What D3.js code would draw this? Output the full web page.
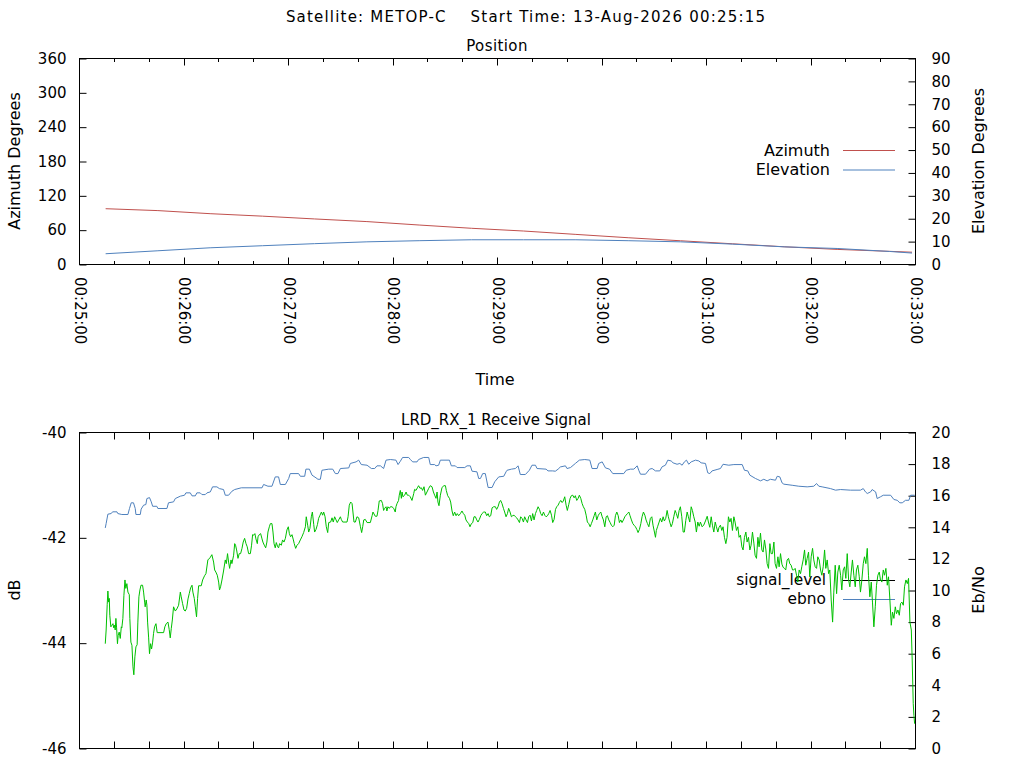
<!DOCTYPE html>
<html>
<head>
<meta charset="utf-8">
<script src="https://cdn.jsdelivr.net/npm/d3@7"></script>
<style>
  html, body { margin: 0; padding: 0; background: #fff; }
  svg { display: block; font-family: "DejaVu Sans", sans-serif; }
  text { fill: #000; white-space: pre; }
</style>
</head>
<body>
<svg id="chart" width="1024" height="768"></svg>
<script>
// ---------------- DATA ----------------
const mainTitle = "Satellite: METOP-C    Start Time: 13-Aug-2026 00:25:15";
const passDate = "2026-08-13";
const timeTicks = ["00:25:00","00:26:00","00:27:00","00:28:00","00:29:00","00:30:00","00:31:00","00:32:00","00:33:00"];
const azimuthTicks = [0, 60, 120, 180, 240, 300, 360];
const elevationTicks = [0, 10, 20, 30, 40, 50, 60, 70, 80, 90];
const dbTicks = [-46, -44, -42, -40];
const ebnoTicks = [0, 2, 4, 6, 8, 10, 12, 14, 16, 18, 20];

// seconds after 00:25:00
const posTimeSec = [15, 45, 75, 105, 135, 165, 195, 225, 255, 285, 315, 345, 375, 405, 435, 465, 478];
const azimuthDeg = [97.5, 94.2, 88.8, 84.5, 79.6, 75.0, 69.0, 63.3, 58.5, 52.6, 46.8, 41.5, 36.2, 30.9, 26.4, 23.0, 21.5];
const elevationDeg = [4.7, 6.0, 7.3, 8.2, 9.1, 9.9, 10.4, 10.8, 10.8, 10.8, 10.4, 9.9, 8.9, 7.7, 7.0, 5.7, 5.0];

const ebnoTimeSec = [14.8,15.3,16.3,18.2,19.0,21.5,22.0,24.3,27.8,28.7,29.7,31.0,32.0,32.4,34.9,35.4,36.8,38.1,38.7,40.2,41.2,42.0,44.4,45.0,50.2,51.1,54.0,55.0,57.9,60.3,61.1,63.6,64.6,66.5,67.4,69.3,70.3,72.2,73.2,75.1,76.4,78.9,80.3,82.7,83.7,85.6,87.5,89.1,92.9,104.8,105.7,108.2,110.5,112.4,114.3,115.3,118.2,120.1,121.0,125.8,126.8,129.3,130.0,132.0,133.5,135.8,136.9,138.3,139.2,143.1,145.4,146.9,148.4,149.8,154.6,155.5,158.8,160.3,161.8,165.1,167.6,169.5,170.8,172.8,
174.6,176.0,178.5,181.7,182.9,184.2,185.5,189.0,190.0,191.3,193.8,194.7,197.6,200.5,201.4,203.9,204.7,206.2,207.2,212.4,213.5,215.8,216.8,221.2,222.5,224.4,225.4,228.2,229.2,230.2,231.5,233.0,234.6,236.9,238.4,240.7,243.6,244.9,245.5,248.0,250.3,251.8,253.1,256.0,258.3,259.8,261.8,262.7,267.9,269.0,271.7,273.2,274.8,276.1,279.0,279.9,281.9,284.7,287.0,290.1,293.0,294.3,297.2,298.1,300.1,302.0,304.3,306.2,312.5,313.9,316.3,318.3,320.2,321.1,322.1,325.0,327.3,
328.8,330.7,333.2,334.5,336.4,337.8,339.7,340.8,343.1,344.7,346.0,347.3,348.5,349.8,351.2,353.7,355.6,356.9,359.4,360.7,361.9,363.2,366.1,368.0,369.5,372.8,375.7,380.5,381.8,383.7,384.9,388.1,389.1,391.0,392.9,394.8,396.7,399.6,400.6,402.1,403.4,404.4,409.2,413.0,417.8,421.6,423.2,424.5,426.4,431.2,434.1,437.0,442.7,448.4,450.0,451.3,452.3,454.2,455.1,457.1,458.0,459.9,461.5,465.7,467.6,469.5,471.0,472.4,474.3,476.2,477.2,479.5];
const ebnoValues = [13.96,14.24,14.83,14.87,14.98,14.98,14.87,14.81,14.81,15.19,15.55,15.55,15.19,14.81,14.81,15.15,15.40,15.44,15.82,15.88,15.61,15.33,15.33,15.19,15.19,15.55,15.61,15.82,15.97,16.03,16.18,16.18,15.99,15.99,16.18,16.18,16.07,16.07,16.18,16.24,16.56,16.56,16.45,16.39,16.03,16.03,16.28,16.39,16.50,16.50,16.71,16.60,16.60,17.19,17.19,16.71,16.71,17.09,17.40,17.40,17.23,17.23,17.68,17.68,17.30,17.13,17.04,17.04,17.61,17.68,17.68,17.40,17.40,17.72,17.76,18.04,18.14,18.25,17.97,17.93,17.72,17.72,17.89,17.89,
17.72,18.25,18.29,18.25,17.97,18.18,18.42,18.42,18.29,18.14,18.14,18.29,18.42,18.42,17.97,17.97,17.89,17.93,18.25,18.25,17.89,17.89,17.78,17.78,17.89,17.89,17.55,17.51,17.09,17.09,17.40,17.40,16.52,16.52,16.88,17.19,17.23,17.51,17.61,17.68,17.72,17.89,17.34,17.34,17.61,17.93,17.93,17.72,17.68,17.57,17.57,17.55,17.68,17.82,17.89,17.72,17.78,18.04,18.25,18.29,18.25,17.72,17.72,18.04,18.14,17.76,17.68,17.40,17.40,17.61,17.68,17.68,17.89,17.61,17.36,17.36,17.68,
17.72,17.57,17.57,17.83,17.93,18.25,18.20,18.08,17.99,18.04,17.93,18.14,18.25,17.99,18.14,18.25,18.20,18.08,18.04,17.45,17.40,17.57,17.66,17.72,17.99,17.93,17.97,17.97,17.61,17.57,17.30,17.09,17.04,16.94,17.04,16.94,17.04,16.98,17.23,17.19,16.81,16.73,16.66,16.60,16.56,16.60,16.77,16.60,16.56,16.45,16.35,16.39,16.35,16.35,16.45,16.24,16.14,16.24,16.39,16.24,15.82,15.93,16.03,16.03,15.76,15.71,15.55,15.55,15.71,15.71,16.03,16.03];

const signalTimeSec = [14.8,15.3,15.9,16.3,16.7,17.1,17.4,18.0,18.6,19.2,19.7,20.1,20.5,20.9,21.3,21.8,22.2,22.8,23.4,24.0,24.3,24.9,25.5,26.1,26.6,27.2,27.8,28.6,28.9,29.5,30.1,30.7,31.2,31.8,32.4,33.1,33.5,34.1,34.7,35.3,36.2,36.8,37.4,37.7,38.3,38.7,39.1,39.7,40.2,40.8,41.4,42.0,42.5,43.1,43.9,44.6,48.3,49.0,49.8,50.8,51.5,52.1,52.7,53.3,54.0,55.0,55.9,56.9,57.9,58.4,59.2,60.0,60.7,61.5,62.3,63.0,63.8,64.6,65.1,65.9,66.5,67.2,67.8,68.4,69.9,70.7,71.8,72.6,73.7,74.9,76.0,77.0,77.6,78.3,79.1,79.9,80.4,81.0,81.8,82.7,83.7,84.3,85.0,85.6,86.2,87.0,87.5,88.5,89.1,89.6,90.2,91.0,91.7,92.5,93.3,94.0,94.8,95.6,96.3,97.1,98.1,98.8,99.4,100.0,100.7,101.3,102.1,102.5,103.2,104.0,104.8,105.3,106.1,106.9,107.6,108.2,109.0,109.6,110.5,111.1,111.7,112.4,113.0,113.8,114.3,114.9,115.9,116.6,117.4,118.2,119.1,119.9,120.5,121.2,122.0,122.8,123.3,124.1,124.9,125.8,126.8,127.7,128.7,129.7,130.2,131.0,131.6,132.3,133.1,133.7,134.5,135.0,135.8,136.6,137.3,138.1,138.9,139.6,140.2,141.0,141.7,142.5,143.1,144.2,145.0,145.7,146.5,147.3,148.0,148.8,149.8,150.3,151.1,153.6,154.2,154.9,155.7,156.5,157.0,157.6,158.4,159.3,160.3,161.3,162.0,162.6,163.2,164.1,165.1,167.0,168.0,168.5,
169.8,170.8,171.4,172.1,173.3,174.0,174.6,175.2,176.0,176.5,177.1,177.9,178.5,179.4,180.4,181.3,181.7,182.3,183.2,183.6,184.2,184.8,185.2,185.7,186.7,187.5,188.2,189.0,189.9,190.9,191.9,192.4,193.2,194.0,194.7,195.5,196.3,197.0,197.8,198.6,199.5,200.5,201.4,202.4,203.2,203.9,204.7,205.3,205.8,206.4,207.2,208.1,209.1,210.1,210.6,211.4,212.4,213.1,213.9,214.6,215.4,216.2,216.9,217.7,218.7,219.6,220.4,221.2,221.9,222.7,223.5,224.2,225.0,225.8,226.5,227.3,228.1,228.8,229.6,230.4,231.1,232.1,233.0,233.8,234.6,235.3,236.1,236.9,237.8,238.8,239.5,240.3,241.1,241.8,242.6,243.4,244.1,244.9,245.7,246.4,247.2,248.0,248.7,249.5,250.3,251.0,251.8,252.6,253.3,254.1,254.9,255.6,256.4,257.2,257.9,258.7,259.5,260.2,261.0,261.8,262.5,263.3,264.1,264.8,265.6,266.4,267.1,267.9,268.7,269.4,270.2,271.0,271.7,272.5,273.3,274.0,274.8,275.5,276.3,277.1,277.8,278.6,279.4,280.1,280.9,281.7,282.4,283.2,284.0,284.7,285.5,286.3,287.0,287.8,288.6,289.3,290.1,290.9,291.6,292.4,293.2,293.9,294.7,295.5,296.2,297.0,297.8,298.5,299.3,300.1,300.8,301.6,302.4,303.1,303.9,304.7,305.4,306.2,307.0,307.7,308.5,309.3,310.0,310.8,311.5,312.3,313.1,313.8,314.6,315.4,316.1,316.9,317.7,318.4,319.2,320.0,320.7,321.5,322.3,323.0,323.8,324.6,325.3,326.1,326.9,
327.8,328.6,329.3,330.1,330.7,331.2,332.0,332.8,333.5,334.3,335.1,335.8,336.6,337.4,338.1,338.9,339.7,340.4,341.2,342.0,342.7,343.5,344.3,345.0,345.8,346.6,347.3,348.1,348.9,349.6,350.4,351.2,351.9,352.7,353.5,354.2,355.0,355.8,356.5,357.5,358.4,359.4,360.4,361.1,361.9,362.7,363.4,364.2,365.0,365.7,366.5,367.2,368.0,368.8,369.5,370.3,371.1,371.8,372.6,373.4,374.1,374.9,375.7,376.4,377.2,378.0,378.7,379.5,380.3,381.0,381.8,382.6,383.3,384.1,384.9,385.6,386.4,387.2,387.9,388.7,389.5,390.2,391.0,391.8,392.5,393.3,394.1,394.8,395.6,396.4,397.1,397.9,398.7,399.4,400.2,401.0,401.7,402.5,403.3,404.0,404.8,405.5,406.3,407.1,407.8,408.6,409.4,410.1,410.9,411.7,412.4,413.2,414.0,414.7,415.5,416.3,417.0,417.8,418.6,419.3,420.1,420.9,421.6,422.4,423.2,423.9,424.7,425.5,426.2,427.0,427.8,428.5,429.3,430.1,430.8,431.6,432.4,433.1,433.9,434.7,435.4,436.2,437.0,437.7,438.5,439.3,440.0,440.8,441.6,442.3,443.1,443.8,444.6,445.4,446.1,446.9,447.7,448.4,449.2,450.0,450.7,451.5,452.3,453.0,453.8,454.6,455.3,456.1,456.9,457.6,458.4,459.2,459.9,460.7,461.5,462.2,463.0,463.8,464.5,465.3,466.1,466.8,467.6,468.4,469.1,469.9,470.7,471.4,472.2,473.0,473.7,474.5,475.3,476.0,476.8,477.6,478.1,478.7,479.1,479.5];
const signalValues = [-44.01,-43.75,-43.27,-43.01,-43.22,-43.15,-43.47,-43.69,-43.66,-43.63,-43.71,-43.66,-43.75,-43.53,-43.71,-44.01,-43.85,-43.79,-43.91,-43.69,-43.71,-43.53,-43.09,-42.80,-42.96,-42.87,-43.03,-43.08,-43.53,-43.98,-44.04,-44.45,-44.60,-44.26,-44.07,-44.03,-43.60,-43.12,-42.99,-42.90,-42.90,-43.03,-43.22,-43.31,-43.18,-43.28,-43.60,-43.90,-44.20,-44.01,-44.11,-43.98,-43.82,-43.69,-43.63,-43.80,-43.80,-43.69,-43.63,-43.60,-43.74,-43.90,-43.72,-43.56,-43.31,-43.39,-43.35,-43.28,-43.03,-43.12,-43.25,-43.37,-43.39,-43.34,-43.16,-43.06,-42.95,-42.90,-43.03,-43.15,-43.31,-43.50,-43.15,-42.91,-42.91,-42.80,-42.72,-42.68,-42.42,-42.38,-42.32,-42.46,-42.61,-42.65,-42.71,-42.84,-42.99,-42.93,-42.80,-42.63,-42.42,-42.49,-42.30,-42.46,-42.58,-42.42,-42.49,-42.33,-42.11,-42.14,-42.23,-42.39,-42.30,-42.30,-42.20,-42.08,-42.01,-42.11,-42.17,-42.30,-42.30,-42.14,-41.94,-41.95,-41.92,-42.02,-42.11,-41.98,-41.94,-41.92,-42.02,-42.08,-42.14,-42.19,-42.08,-41.89,-41.79,-41.73,-41.73,-41.89,-42.11,-42.19,-42.09,-42.17,-42.19,-42.11,-42.14,-42.04,-42.08,-42.01,-41.85,-41.79,-41.92,-41.98,-41.94,-42.04,-42.11,-42.20,-42.14,-42.11,-42.04,-41.98,-41.90,-41.79,-41.60,-41.76,-41.89,-41.82,-41.60,-41.51,-41.75,-41.89,-41.84,-41.75,-41.63,-41.57,-41.51,-41.57,-41.51,-41.60,-41.79,-41.90,-41.71,-41.70,-41.62,-41.70,-41.60,-41.66,-41.71,-41.66,-41.60,-41.65,-41.70,-41.70,-41.60,-41.38,-41.32,-41.35,-41.51,-41.70,-41.70,-41.60,-41.62,-41.79,-41.90,-41.79,-41.66,-41.65,-41.71,-41.71,-41.58,-41.51,
-41.59,-41.59,-41.48,-41.30,-41.29,-41.35,-41.48,-41.44,-41.41,-41.49,-41.41,-41.44,-41.41,-41.41,-41.44,-41.51,-41.41,-41.35,-41.29,-41.19,-41.10,-41.25,-41.13,-41.22,-41.19,-41.13,-41.19,-41.19,-41.22,-41.29,-41.16,-41.08,-41.10,-41.05,-41.01,-41.06,-41.05,-41.10,-41.03,-41.19,-41.13,-41.06,-41.01,-41.03,-41.13,-41.19,-41.25,-41.13,-41.32,-41.39,-41.19,-41.05,-41.01,-41.01,-41.10,-41.20,-41.25,-41.32,-41.49,-41.58,-41.51,-41.58,-41.54,-41.58,-41.54,-41.49,-41.54,-41.57,-41.66,-41.70,-41.73,-41.79,-41.73,-41.71,-41.60,-41.60,-41.66,-41.70,-41.65,-41.58,-41.54,-41.51,-41.51,-41.58,-41.54,-41.60,-41.58,-41.43,-41.41,-41.41,-41.46,-41.41,-41.32,-41.29,-41.35,-41.44,-41.51,-41.60,-41.54,-41.44,-41.51,-41.60,-41.58,-41.57,-41.60,-41.62,-41.66,-41.71,-41.60,-41.63,-41.70,-41.60,-41.66,-41.71,-41.60,-41.57,-41.68,-41.54,-41.66,-41.54,-41.48,-41.41,-41.46,-41.54,-41.58,-41.51,-41.57,-41.60,-41.58,-41.54,-41.48,-41.57,-41.71,-41.65,-41.46,-41.41,-41.38,-41.33,-41.29,-41.33,-41.30,-41.22,-41.38,-41.48,-41.37,-41.25,-41.20,-41.19,-41.24,-41.20,-41.29,-41.25,-41.19,-41.25,-41.35,-41.41,-41.46,-41.57,-41.70,-41.73,-41.79,-41.73,-41.66,-41.58,-41.51,-41.66,-41.58,-41.54,-41.51,-41.60,-41.66,-41.79,-41.60,-41.58,-41.66,-41.71,-41.76,-41.79,-41.76,-41.58,-41.51,-41.58,-41.71,-41.66,-41.71,-41.66,-41.60,-41.57,-41.54,-41.51,-41.58,-41.66,-41.73,-41.76,-41.79,-41.84,-41.90,-41.84,-41.73,-41.60,-41.51,-41.57,-41.66,-41.73,-41.79,
-41.63,-41.60,-41.76,-41.89,-41.99,-41.86,-41.78,-41.70,-41.63,-41.70,-41.60,-41.68,-41.63,-41.48,-41.60,-41.70,-41.79,-41.73,-41.60,-41.48,-41.54,-41.63,-41.48,-41.41,-41.60,-41.89,-41.89,-41.67,-41.51,-41.60,-41.70,-41.41,-41.48,-41.60,-41.70,-41.89,-41.70,-41.78,-41.70,-41.79,-41.76,-41.68,-41.59,-41.70,-41.80,-41.60,-41.76,-41.89,-41.70,-41.79,-41.89,-41.80,-41.76,-41.86,-41.79,-41.99,-42.11,-41.99,-41.60,-41.70,-41.63,-41.86,-41.60,-41.70,-41.86,-41.79,-41.99,-41.95,-42.17,-42.23,-41.99,-41.89,-42.08,-41.99,-42.23,-42.14,-41.89,-42.10,-42.33,-42.39,-41.99,-42.17,-41.91,-42.23,-42.27,-42.04,-42.23,-42.49,-42.58,-42.11,-42.30,-42.30,-42.08,-42.49,-42.58,-42.36,-42.55,-42.30,-42.50,-42.56,-42.58,-42.61,-42.42,-42.39,-42.49,-42.52,-42.61,-42.61,-42.58,-42.71,-42.84,-42.61,-42.68,-42.55,-42.42,-42.23,-42.52,-42.39,-42.27,-42.74,-42.36,-42.20,-42.42,-42.55,-42.58,-42.36,-42.42,-42.61,-42.71,-42.55,-42.23,-42.58,-42.42,-42.68,-42.61,-43.18,-43.60,-43.03,-42.52,-43.06,-42.65,-42.52,-42.71,-42.99,-42.61,-42.55,-42.77,-42.30,-42.80,-42.93,-42.65,-42.42,-42.71,-42.93,-42.61,-42.52,-42.74,-43.03,-42.80,-42.49,-42.36,-42.49,-42.20,-42.71,-43.12,-42.84,-43.22,-43.69,-43.31,-42.90,-42.71,-42.65,-42.80,-42.84,-42.61,-42.71,-42.58,-42.90,-42.74,-43.18,-43.66,-43.41,-43.53,-43.31,-43.44,-43.37,-43.47,-43.25,-43.22,-43.28,-42.93,-42.80,-42.87,-42.77,-43.60,-43.75,-44.32,-45.15,-45.37,-45.53];

// ---------------- CHART ----------------
const svg = d3.select("#chart");
const parseClock = s => new Date(passDate + "T" + s + "Z");
const t0 = parseClock(timeTicks[0]);
const tEnd = parseClock(timeTicks[timeTicks.length - 1]);
const toDate = s => new Date(t0.getTime() + s * 1000);

const X0 = 79.5, X1 = 915.5;
const x = d3.scaleUtc().domain([t0, tEnd]).range([X0, X1]);
const minorTicks = d3.utcSecond.every(20).range(t0, new Date(tEnd.getTime() + 1));
const majorTicks = timeTicks.map(parseClock);

const colAz = "#c0504d", colEl = "#4f81bd", colSig = "#00c000";

svg.append("text").attr("x", 526).attr("y", 17).attr("text-anchor", "middle")
  .attr("dominant-baseline", "central").style("font-size", "15px").style("letter-spacing", "1.2px").text(mainTitle);

function frame(g, top, bottom) {
  g.append("rect").attr("x", X0).attr("y", top).attr("width", X1 - X0).attr("height", bottom - top)
    .attr("fill", "none").attr("stroke", "#000").attr("stroke-width", 1);
}

function xTickMarks(g, top, bottom, ticks, len) {
  const sel = g.append("g");
  ticks.forEach(d => {
    const px = Math.round(x(d) - 0.5) + 0.5;
    sel.append("line").attr("x1", px).attr("x2", px).attr("y1", bottom).attr("y2", bottom - len).attr("stroke", "#000");
    sel.append("line").attr("x1", px).attr("x2", px).attr("y1", top).attr("y2", top + len).attr("stroke", "#000");
  });
}

function yAxis(g, scale, ticks, side) {
  const ax = (side === "left" ? d3.axisLeft(scale) : d3.axisRight(scale))
    .tickValues(ticks).tickSizeInner(-7).tickSizeOuter(0)
    .tickPadding(side === "left" ? 13 : 16).tickFormat(d => d);
  const a = g.append("g").attr("transform", `translate(${side === "left" ? X0 : X1},0)`).call(ax);
  a.select(".domain").remove();
  a.selectAll("text").style("font-size", "15px").style("font-family", "DejaVu Sans, sans-serif").attr("fill", "#000");
  a.selectAll("line").attr("stroke", "#000");
  return a;
}

function legend(g, items, xr, yStart, dy) {
  items.forEach((it, i) => {
    const yy = yStart + i * dy;
    g.append("text").attr("x", xr).attr("y", yy).attr("text-anchor", "end")
      .attr("dominant-baseline", "central").style("font-size", it.size || "16px").text(it.label);
    g.append("line").attr("x1", 843).attr("x2", 895).attr("y1", yy + 0.5).attr("y2", yy + 0.5)
      .attr("stroke", it.color).attr("stroke-width", 1);
  });
}

function dataPath(g, values, times, xs, ys, color) {
  const line = d3.line().x((d, i) => xs(toDate(times[i]))).y(d => ys(d));
  g.append("path").datum(values).attr("d", line).attr("fill", "none")
    .attr("stroke", color).attr("stroke-width", 1).attr("stroke-linejoin", "miter");
}

// ---- Top: Position ----
{
  const TOP = 58.5, BOT = 264.5;
  const g = svg.append("g");
  const yAz = d3.scaleLinear().domain([0, 360]).range([BOT, TOP]);
  const yEl = d3.scaleLinear().domain([0, 90]).range([BOT, TOP]);

  g.append("text").attr("x", 497).attr("y", 46).attr("text-anchor", "middle")
    .attr("dominant-baseline", "central").style("font-size", "15px").style("letter-spacing", "0.4px").text("Position");

  frame(g, TOP, BOT);
  xTickMarks(g, TOP, BOT, minorTicks, 3.5);
  xTickMarks(g, TOP, BOT, majorTicks, 7);
  yAxis(g, yAz, azimuthTicks, "left");
  yAxis(g, yEl, elevationTicks, "right");

  majorTicks.forEach((d, i) => {
    const px = x(d);
    g.append("text").attr("x", px).attr("y", 277)
      .attr("transform", `rotate(90,${px},277)`)
      .attr("text-anchor", "start").attr("dominant-baseline", "central")
      .style("font-size", "15px").text(timeTicks[i]);
  });

  g.append("text").attr("x", 495).attr("y", 379).attr("text-anchor", "middle")
    .attr("dominant-baseline", "central").style("font-size", "16px").text("Time");
  g.append("text").attr("transform", "translate(14,161) rotate(-90)").attr("text-anchor", "middle")
    .attr("dominant-baseline", "central").style("font-size", "16px").text("Azimuth Degrees");
  g.append("text").attr("transform", "translate(978,161) rotate(-90)").attr("text-anchor", "middle")
    .attr("dominant-baseline", "central").style("font-size", "16px").text("Elevation Degrees");

  legend(g, [{label: "Azimuth", color: colAz}, {label: "Elevation", color: colEl}], 830, 150, 19.5);

  dataPath(g, azimuthDeg, posTimeSec, x, yAz, colAz);
  dataPath(g, elevationDeg, posTimeSec, x, yEl, colEl);
}

// ---- Bottom: Receive signal ----
{
  const TOP = 432.5, BOT = 748.5;
  const g = svg.append("g");
  const yDb = d3.scaleLinear().domain([-46, -40]).range([BOT, TOP]);
  const yEb = d3.scaleLinear().domain([0, 20]).range([BOT, TOP]);

  g.append("text").attr("x", 496).attr("y", 420).attr("text-anchor", "middle")
    .attr("dominant-baseline", "central").style("font-size", "15px").text("LRD_RX_1 Receive Signal");

  frame(g, TOP, BOT);
  xTickMarks(g, TOP, BOT, minorTicks, 7);
  yAxis(g, yDb, dbTicks, "left");
  yAxis(g, yEb, ebnoTicks, "right");

  g.append("text").attr("transform", "translate(14,590) rotate(-90)").attr("text-anchor", "middle")
    .attr("dominant-baseline", "central").style("font-size", "16px").text("dB");
  g.append("text").attr("transform", "translate(978,590) rotate(-90)").attr("text-anchor", "middle")
    .attr("dominant-baseline", "central").style("font-size", "16px").text("Eb/No");

  legend(g, [{label: "signal_level", color: "#000", size: "15.4px"}, {label: "ebno", color: colEl, size: "15.4px"}], 826, 580, 19);

  dataPath(g, ebnoValues, ebnoTimeSec, x, yEb, colEl);
  dataPath(g, signalValues, signalTimeSec, x, yDb, colSig);
}
</script>
</body>
</html>
